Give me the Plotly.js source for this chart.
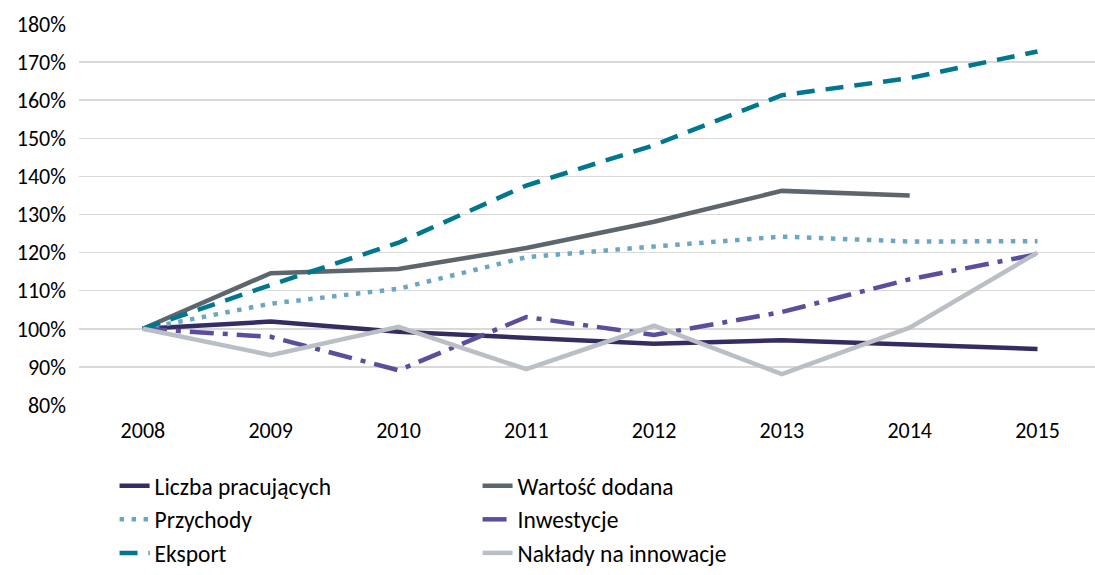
<!DOCTYPE html>
<html>
<head>
<meta charset="utf-8">
<script src="https://cdn.plot.ly/plotly-3.0.1.min.js"></script>
<style>html,body{margin:0;padding:0;background:#fff;}#chart{width:1095px;height:575px;}</style>
</head>
<body>
<div id="chart"></div>
<script>
const years = ['2008','2009','2010','2011','2012','2013','2014','2015'];
const liczbaPracujacych = [100, 101.9, 99.2, 97.6, 96.1, 97.0, 95.8, 94.7];
const wartoscDodana = [100, 114.6, 115.7, 121.2, 128.1, 136.2, 135.0, null];
const przychody = [100, 106.6, 110.5, 118.8, 121.6, 124.2, 122.9, 123.0];
const inwestycje = [100, 97.9, 89.1, 103.1, 98.4, 104.4, 113.0, 119.6];
const eksport = [100, 111.5, 122.6, 137.6, 148.2, 161.3, 165.8, 172.8];
const naklady = [100, 93.1, 100.5, 89.4, 100.8, 88.1, 100.3, 120.0];
const yTicks = [80, 90, 100, 110, 120, 130, 140, 150, 160, 170, 180];
const yTickLabels = yTicks.map(v => v + '%');

const FONT = 'Carlito, Calibri, Lato, "Liberation Sans", sans-serif';

function tr(name, y, color, dash, width) {
  return {x: years, y: y, name: name, type: 'scatter', mode: 'lines',
    line: {color: color, width: width || 4.5, dash: dash || 'solid'},
    connectgaps: false, hoverinfo: 'skip'};
}

const traces = [
  tr('Liczba pracujących', liczbaPracujacych, '#352c62', 'solid'),
  tr('Wartość dodana', wartoscDodana, '#5d666d', 'solid'),
  tr('Przychody', przychody, '#6ba7c3', '4.5px,7.5px', 4.5),
  tr('Inwestycje', inwestycje, '#5a4f9d', '24px,9px,5px,9px'),
  tr('Eksport', eksport, '#00768f', '18px,11px'),
  tr('Nakłady na innowacje', naklady, '#b9bfc4', 'solid')
];

const layout = {
  width: 1095, height: 575,
  margin: {l: 79, r: 0, t: 24, b: 170},
  paper_bgcolor: '#ffffff', plot_bgcolor: '#ffffff',
  font: {family: FONT, size: 22, color: '#000000'},
  showlegend: true,
  xaxis: {type: 'category', range: [-0.5, 7.45], showgrid: false, zeroline: false,
    showline: false, ticks: '', tickfont: {family: FONT, size: 22, color: '#000'},
    ticklabelstandoff: 10, fixedrange: true},
  yaxis: {range: [80, 180], tickvals: yTicks, ticktext: yTickLabels, showgrid: true,
    gridcolor: '#d9d9d9', gridwidth: 1.5, zeroline: false, showline: false, ticks: '',
    tickfont: {family: FONT, size: 22, color: '#000'}, ticklabelstandoff: 12, fixedrange: true},
  legend: {orientation: 'h', x: 0.035, xanchor: 'left', y: -0.155, yanchor: 'top',
    entrywidth: 318, entrywidthmode: 'pixels', traceorder: 'normal',
    font: {family: FONT, size: 23.5, color: '#000'}, bgcolor: 'rgba(0,0,0,0)'}
};

Plotly.newPlot('chart', traces, layout, {displayModeBar: false, staticPlot: true});
</script>
</body>
</html>
